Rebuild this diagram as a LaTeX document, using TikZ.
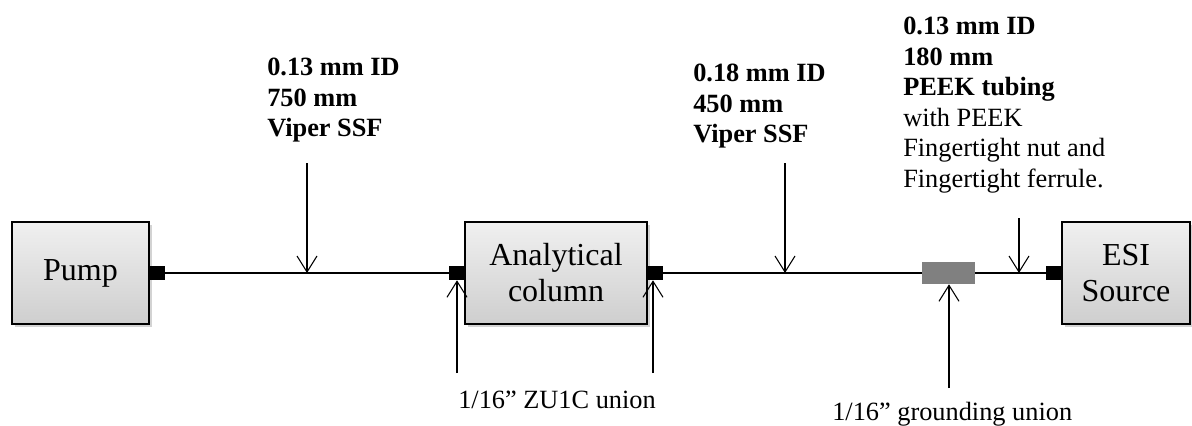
\documentclass[tikz,border=0pt]{standalone}
\usepackage{fontspec}
\setmainfont{Liberation Serif}
\usetikzlibrary{positioning,arrows.meta,shadows}
\tikzset{
  unit/.style={draw,line width=1.2pt,top color=gray!12,bottom color=gray!38,
    drop shadow={opacity=0.35,shadow xshift=2pt,shadow yshift=-2pt},
    align=center,inner sep=0pt,font=\fontsize{24}{27}\selectfont},
  port/.style={fill=black,inner sep=0pt,minimum width=11.25pt,minimum height=10.5pt},
  tube/.style={line width=1.5pt},
  pointer/.style={line width=0.8pt,-{Straight Barb[length=12pt,width=15pt,line width=0.8pt]}},
  spec/.style={align=left,inner sep=0pt,font=\fontsize{19.75}{22.9}\selectfont},
}
\begin{document}
\begin{tikzpicture}[x=0.75pt,y=-0.75pt]
  \useasboundingbox (0,0) rectangle (1192,425);
  % units
  \node[unit,minimum width=102.75pt,minimum height=76.5pt] (pump) at (80.5,273) {Pump};
  \node[unit,minimum width=136.5pt,minimum height=76.5pt] (col) at (556,273) {Analytical\\column};
  \node[unit,minimum width=96pt,minimum height=76.5pt] (esi) at (1126,273) {ESI\\Source};
  % fittings
  \node[port,right=0pt of pump] (pumpout) {};
  \node[port,left=0pt of col] (colin) {};
  \node[port,right=0pt of col] (colout) {};
  \node[port,left=0pt of esi] (esiin) {};
  \node[fill=gray,inner sep=0pt,minimum width=39.75pt,minimum height=16.5pt] (gu) at (948.5,273) {};
  % tubing
  \draw[tube] (pumpout) -- (colin);
  \draw[tube] (colout) -- (gu);
  \draw[tube] (gu) -- (esiin);
  % labels
  \node[spec,anchor=north west] (tube1) at (267,58) {\bfseries 0.13 mm ID\\\bfseries 750 mm\\\bfseries Viper SSF};
  \node[spec,anchor=north west] (tube2) at (693,64) {\bfseries 0.18 mm ID\\\bfseries 450 mm\\\bfseries Viper SSF};
  \node[spec,anchor=north west] (tube3) at (903,17) {\bfseries 0.13 mm ID\\\bfseries 180 mm\\\bfseries PEEK tubing\\with PEEK\\Fingertight nut and\\Fingertight ferrule.};
  \node[spec,anchor=base west] (zu) at (458,408) {1/16'' ZU1C union};
  \node[spec,anchor=base west] (gnd) at (832,420) {1/16'' grounding union};
  % pointers
  \coordinate (p1) at (307,163);
  \coordinate (p2) at (785,163);
  \coordinate (p3) at (1019,218);
  \coordinate (q1) at (457,373);
  \coordinate (q2) at (653,373);
  \coordinate (q3) at (949,388);
  \draw[pointer] (p1) -- (p1 |- pumpout);
  \draw[pointer] (p2) -- (p2 |- colout);
  \draw[pointer] (p3) -- (p3 |- esiin);
  \draw[pointer] (q1) -- (q1 |- colin.south);
  \draw[pointer] (q2) -- (q2 |- colout.south);
  \draw[pointer] (q3) -- (q3 |- gu.south);
\end{tikzpicture}
\end{document}
